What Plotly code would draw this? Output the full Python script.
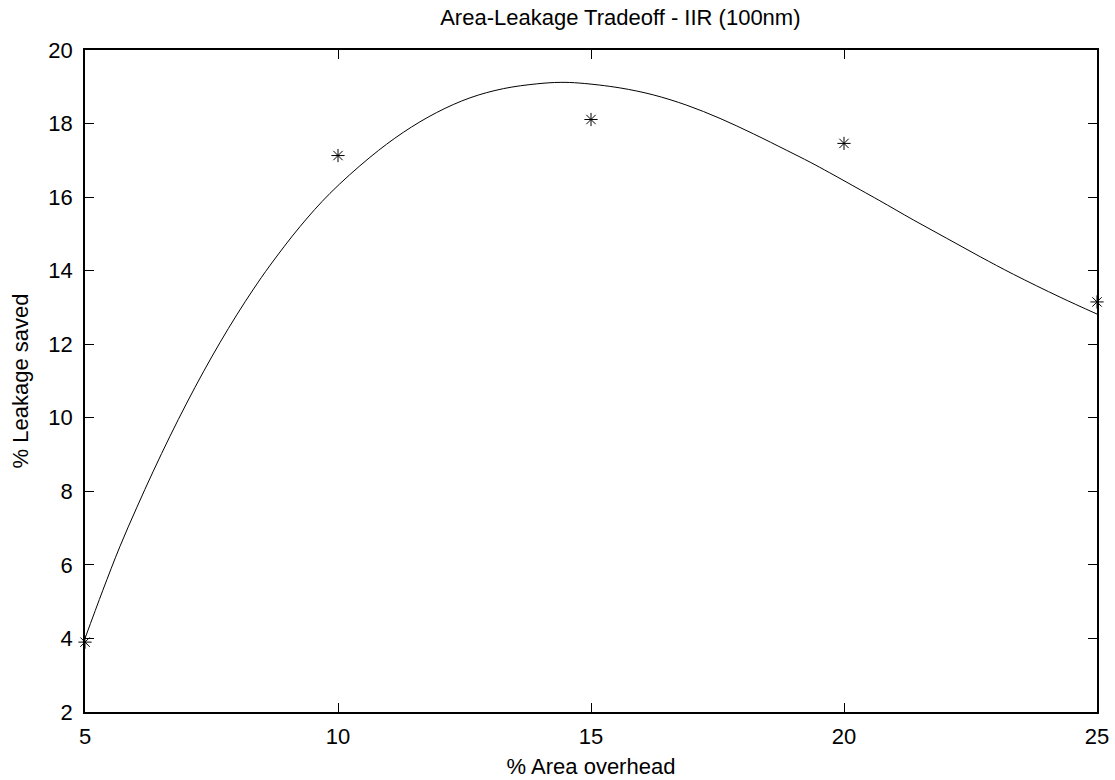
import plotly.graph_objects as go

# Measured data points
area_overhead = [5, 10, 15, 20, 25]
leakage_saved = [3.9, 17.13, 18.11, 17.46, 13.15]

# Smooth fitted curve
curve_x = [5.0, 5.35, 5.69, 6.02, 6.35, 6.68, 7.01, 7.34, 7.67, 8.0, 8.33,
           8.66, 9.25, 9.84, 10.63, 11.29, 11.95, 12.61, 13.27, 13.93, 14.39,
           14.78, 15.57, 16.23, 16.89, 17.55, 18.21, 18.87, 19.33, 19.72,
           20.32, 20.71, 21.37, 22.03, 22.69, 23.35, 24.27, 25.0]
curve_y = [4.0, 5.3, 6.5, 7.55, 8.55, 9.5, 10.4, 11.25, 12.05, 12.8, 13.5,
           14.15, 15.2, 16.1, 17.08, 17.76, 18.3, 18.7, 18.95, 19.08, 19.12,
           19.1, 18.97, 18.78, 18.5, 18.14, 17.72, 17.27, 16.95, 16.66,
           16.2, 15.9, 15.38, 14.88, 14.38, 13.9, 13.28, 12.82]

x_ticks = [5, 10, 15, 20, 25]
y_ticks = [2, 4, 6, 8, 10, 12, 14, 16, 18, 20]

FONT = "Liberation Sans, Arial, Helvetica, sans-serif"
FS = 22

fig = go.Figure()
fig.add_trace(go.Scatter(
    x=curve_x, y=curve_y, mode="lines",
    line=dict(color="black", width=1, shape="spline", smoothing=1.0),
    showlegend=False, hoverinfo="skip",
))
fig.add_trace(go.Scatter(
    x=area_overhead, y=leakage_saved, mode="markers",
    marker=dict(symbol="asterisk-open", size=11, color="black",
                line=dict(color="black", width=1)),
    showlegend=False, cliponaxis=False,
))

axis_common = dict(
    showgrid=False, zeroline=False, automargin=False,
    showline=True, linecolor="black", linewidth=1.5,
    mirror="allticks", ticks="inside", ticklen=9, tickwidth=1,
    tickcolor="black",
    tickfont=dict(family=FONT, size=FS, color="black"),
)

fig.update_layout(
    width=1115, height=780,
    margin=dict(l=85, r=18, t=50, b=68),
    paper_bgcolor="white", plot_bgcolor="white",
    font=dict(family=FONT, size=FS, color="black"),
    title=dict(text="Area-Leakage Tradeoff - IIR (100nm)",
               x=0.529, xanchor="center", xref="paper",
               y=0.978, yanchor="middle", yref="container",
               font=dict(family=FONT, size=FS, color="black")),
    xaxis=dict(axis_common, range=[5, 25], tickvals=x_ticks,
               ticklabelstandoff=4,
               title=dict(text="% Area overhead", standoff=10,
                          font=dict(family=FONT, size=FS))),
    yaxis=dict(axis_common, range=[2, 20], tickvals=y_ticks,
               ticklabelstandoff=6,
               title=dict(text="% Leakage saved", standoff=14,
                          font=dict(family=FONT, size=FS))),
)

fig.write_html("out.html")
